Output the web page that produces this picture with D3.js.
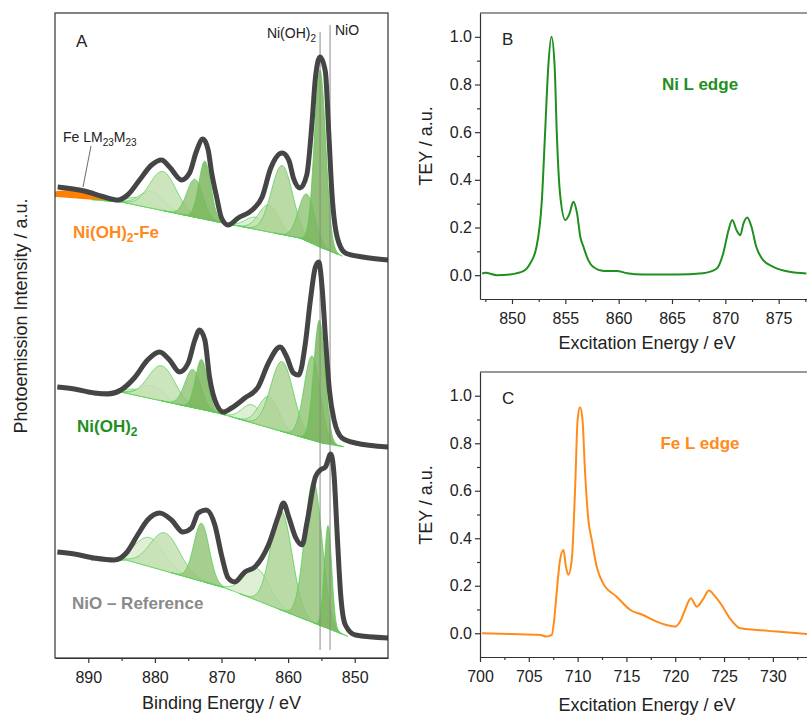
<!DOCTYPE html>
<html lang="en">
<head>
  <meta charset="UTF-8">
  <title>Ni 2p XPS and L-edge TEY</title>
  <script src="https://d3js.org/d3.v7.min.js"></script>
  <style>
    body { margin: 0; background: #fff; }
    svg { display: block; font-family: "Liberation Sans", Arial, sans-serif; }
    .axis path, .axis line { stroke: #333; stroke-width: 1.2px; }
    .axis text { font-family: "Liberation Sans", Arial, sans-serif; font-size: 16px; fill: #222; }
    .frame { fill: none; stroke: #333; stroke-width: 1.2px; }
    .spec { fill: none; stroke: #454545; stroke-width: 5px; stroke-linejoin: round; }
    .comp { stroke: #52d052; stroke-width: 0.8px; fill-opacity: 0.85; }
    .marker { stroke: #8a8a8a; stroke-width: 1px; }
    .title { font-size: 18px; fill: #222; }
  </style>
</head>
<body>
  <svg width="807" height="716"></svg>
  <script>
    // ---------- panel A : Ni 2p XPS, binding energy (eV) / intensity (a.u.) ----------
    const fePeakE = [894.6, 890.6, 887.6, 885.6, 884.1, 882.3, 880.5, 879.0, 877.8, 876.0, 874.8, 873.8, 872.8, 872.0, 871.5, 870.7, 870.0, 869.0, 867.5, 865.4, 863.9, 862.6, 860.9, 859.9, 859.2, 858.2, 857.2, 856.4, 855.9, 855.2, 854.4, 853.9, 853.4, 852.6, 851.4, 848.8, 845.0];
    const fePeakI = [471, 467, 461, 458, 463, 478, 493, 498, 491, 478, 485, 506, 519, 508, 486, 460, 440, 433, 440, 448, 461, 490, 505, 498, 480, 470, 483, 536, 580, 601, 586, 526, 463, 420, 405, 401, 398];
    const feBgE = [894.7, 885.0, 870.5, 858.2, 854.9, 851.9, 845.0];
    const feBgI = [461, 456, 436, 420, 410, 402, 399];
    // [centre eV, height, sigma eV, type]
    const feComps = [
      [882.3, 8, 1.8, "sat3"], [880.5, 17, 1.8, "sat3"], [878.8, 39, 2.0, "sat2"], [874.0, 38, 1.2, "shoulder"], [872.5, 58, 0.9, "main"],
      [864.9, 12, 1.5, "sat3"], [862.9, 27, 1.5, "sat2"], [860.9, 69, 1.6, "sat1"], [857.2, 47, 1.2, "shoulder"], [855.2, 177, 0.85, "main"]
    ];
    const feAuger = [892.0, 8, 3.5];

    const hydE = [894.65, 892.1, 889.1, 887.1, 885.1, 883.1, 881.1, 879.3, 877.8, 876.3, 875.0, 874.0, 873.3, 872.5, 871.8, 870.7, 869.7, 868.5, 866.5, 864.5, 862.95, 861.2, 860.2, 859.2, 858.4, 857.4, 856.65, 855.9, 855.4, 854.9, 854.4, 853.8, 853.1, 851.9, 849.9, 844.9];
    const hydI = [271, 269, 265, 264, 268, 280, 298, 306, 298, 286, 295, 318, 328, 318, 281, 253, 246, 250, 260, 271, 295, 311, 301, 285, 283, 315, 358, 391, 396, 371, 321, 268, 238, 220, 215, 211];
    const hydBgE = [885.1, 870.5, 854.9, 851.4, 845.0];
    const hydBgI = [266, 245, 215, 211, 210];
    const hydComps = [
      [882.5, 6, 1.8, "sat3"], [880.5, 13, 1.8, "sat3"], [879.0, 35, 2.0, "sat2"], [874.3, 38, 1.2, "shoulder"], [873.0, 50, 0.9, "main"],
      [865.4, 18, 1.5, "sat3"], [862.9, 31, 1.5, "sat2"], [860.9, 70, 1.7, "sat1"], [856.4, 84, 1.2, "shoulder"], [855.3, 122, 0.85, "main"]
    ];

    const nioE = [894.65, 892.1, 889.1, 886.1, 884.3, 882.6, 881.1, 879.3, 877.5, 875.8, 874.5, 873.5, 872.3, 871.0, 870.0, 869.0, 868.0, 866.5, 865.0, 862.95, 861.4, 860.7, 859.9, 858.9, 857.9, 857.15, 855.9, 855.15, 854.4, 853.6, 853.1, 852.6, 852.1, 851.4, 849.9, 844.9];
    const nioI = [106, 104, 100, 98, 105, 123, 138, 145, 138, 126, 130, 145, 148, 133, 103, 80, 76, 86, 91, 113, 143, 155, 141, 121, 113, 136, 181, 188, 191, 204, 183, 120, 63, 33, 23, 20];
    const nioBgE = [884.3, 869.4, 850.8, 845.0];
    const nioBgI = [98, 70, 21, 19];
    const nioComps = [
      [880.8, 29, 2.2, "sat3"], [878.5, 38, 2.2, "sat2"], [873.0, 58, 1.15, "shoulder"],
      [864.7, 32, 1.9, "sat3"], [861.0, 99, 1.6, "sat1"], [856.2, 142, 1.3, "shoulder"], [854.0, 103, 0.55, "main"]
    ];

    const refLines = [["Ni(OH)2", 855.2], ["NiO", 853.7]];

    // ---------- panel B : Ni L edge ----------
    const niE = [847.2, 847.5, 848.6, 849.8, 851.1, 851.7, 852.3, 852.8, 853.1, 853.4, 853.7, 854.0, 854.2, 854.5, 855.0, 855.4, 855.75, 856.1, 856.4, 856.7, 857.15, 857.6, 858.6, 859.8, 860.8, 862.3, 865.4, 867.9, 869.2, 869.8, 870.3, 870.65, 871.05, 871.4, 871.7, 872.05, 872.45, 872.9, 873.55, 874.5, 876.0, 877.6];
    const niY = [0.007, 0.010, 0.0, 0.003, 0.018, 0.049, 0.119, 0.315, 0.595, 0.874, 1.0, 0.874, 0.595, 0.343, 0.231, 0.259, 0.308, 0.259, 0.161, 0.119, 0.063, 0.035, 0.018, 0.018, 0.008, 0.003, 0.003, 0.008, 0.028, 0.091, 0.189, 0.231, 0.189, 0.168, 0.217, 0.242, 0.203, 0.119, 0.063, 0.035, 0.014, 0.007];

    // ---------- panel C : Fe L edge ----------
    const feE = [700.2, 703.1, 706.2, 706.8, 707.35, 707.6, 707.85, 708.2, 708.55, 708.8, 709.05, 709.4, 709.75, 710.0, 710.25, 710.5, 710.75, 711.1, 711.45, 711.95, 712.6, 714.0, 715.4, 716.7, 718.1, 719.1, 720.0, 720.5, 721.0, 721.6, 722.2, 722.9, 723.45, 724.1, 724.75, 725.6, 726.65, 728.35, 730.4, 733.5];
    const feY = [0.0, -0.003, -0.007, -0.014, -0.007, 0.056, 0.169, 0.309, 0.351, 0.281, 0.246, 0.309, 0.618, 0.899, 0.952, 0.899, 0.688, 0.477, 0.393, 0.281, 0.211, 0.154, 0.098, 0.077, 0.049, 0.035, 0.028, 0.049, 0.098, 0.147, 0.112, 0.147, 0.180, 0.154, 0.119, 0.063, 0.021, 0.014, 0.007, -0.003];

    const compColor = { main: "#7cb65e", shoulder: "#95c57b", sat1: "#aed496", sat2: "#c4e0b2", sat3: "#d8ecce" };

    const svg = d3.select("svg");

    // ===== panel A =====
    const A = { left: 55, right: 388, top: 13, bottom: 658 };
    const xA = d3.scaleLinear().domain([895, 845]).range([A.left, A.right]);
    const yA = d3.scaleLinear().domain([0, 645]).range([A.bottom, A.top]);

    svg.append("clipPath").attr("id", "clipA")
      .append("rect").attr("x", A.left).attr("y", A.top)
      .attr("width", A.right - A.left).attr("height", A.bottom - A.top);

    const gA = svg.append("g");
    const plotA = gA.append("g").attr("clip-path", "url(#clipA)");

    function drawSpectrum(E, I, bgE, bgI, comps, auger) {
      const bg = d3.scaleLinear().domain(bgE).range(bgI).clamp(true);
      const g = plotA.append("g");

      if (auger) {
        const [c, h, s] = auger;
        const es = d3.range(895, 884.5, -0.05);
        g.append("path")
          .attr("fill", "#ff8000")
          .attr("d", d3.area()
            .x(e => xA(e))
            .y0(e => yA(bg(e)))
            .y1(e => yA(bg(e) + h * Math.exp(-((e - c) ** 2) / (2 * s * s))))(es));
      }

      comps.forEach(([c, h, s, type]) => {
        const es = d3.range(c + 4 * s, c - 4 * s, -0.05);
        g.append("path")
          .attr("class", "comp")
          .attr("fill", compColor[type])
          .attr("d", d3.area()
            .x(e => xA(e))
            .y0(e => yA(bg(e)))
            .y1(e => yA(bg(e) + h * Math.exp(-((e - c) ** 2) / (2 * s * s))))(es));
      });
      return g;
    }

    drawSpectrum(fePeakE, fePeakI, feBgE, feBgI, feComps, feAuger);
    drawSpectrum(hydE, hydI, hydBgE, hydBgI, hydComps, null);
    drawSpectrum(nioE, nioI, nioBgE, nioBgI, nioComps, null);

    // reference lines
    plotA.selectAll(".marker")
      .data(refLines)
      .enter().append("line")
      .attr("class", "marker")
      .attr("x1", d => xA(d[1])).attr("x2", d => xA(d[1]))
      .attr("y1", (d, i) => i === 0 ? 32 : 25)
      .attr("y2", 650);

    const specLine = d3.line().x(d => xA(d[0])).y(d => yA(d[1])).curve(d3.curveMonotoneX);
    [[fePeakE, fePeakI], [hydE, hydI], [nioE, nioI]].forEach(([E, I]) => {
      plotA.append("path").attr("class", "spec").attr("d", specLine(d3.zip(E, I)));
    });

    gA.append("rect").attr("class", "frame")
      .attr("x", A.left).attr("y", A.top)
      .attr("width", A.right - A.left).attr("height", A.bottom - A.top);

    gA.append("g").attr("class", "axis")
      .attr("transform", `translate(0,${A.bottom})`)
      .call(d3.axisBottom(xA).tickValues([890, 880, 870, 860, 850]).tickSize(5).tickPadding(9).tickSizeOuter(0));
    gA.append("g").attr("class", "axis")
      .attr("transform", `translate(0,${A.bottom})`)
      .call(d3.axisBottom(xA).tickValues([885, 875, 865, 855]).tickSize(3).tickFormat(""))
      .call(g => g.select(".domain").remove());

    gA.append("text").attr("class", "title")
      .attr("x", (A.left + A.right) / 2).attr("y", 709)
      .attr("text-anchor", "middle").text("Binding Energy / eV");
    gA.append("text").attr("class", "title")
      .attr("transform", "translate(27,316) rotate(-90)")
      .attr("text-anchor", "middle").text("Photoemission Intensity / a.u.");

    gA.append("text").attr("x", 76).attr("y", 47).attr("font-size", 17).attr("fill", "#222").text("A");

    // peak position labels
    const lbl1 = gA.append("text").attr("x", 316).attr("y", 38).attr("text-anchor", "end")
      .attr("font-size", 14).attr("fill", "#222");
    lbl1.append("tspan").text("Ni(OH)");
    lbl1.append("tspan").attr("dy", 4).attr("font-size", 10).text("2");
    gA.append("text").attr("x", 335).attr("y", 35).attr("font-size", 14).attr("fill", "#222").text("NiO");

    // Fe LMM annotation
    const lbl2 = gA.append("text").attr("x", 63).attr("y", 142).attr("font-size", 14).attr("fill", "#222");
    lbl2.append("tspan").text("Fe LM");
    lbl2.append("tspan").attr("dy", 4).attr("font-size", 10).text("23");
    lbl2.append("tspan").attr("dy", -4).text("M");
    lbl2.append("tspan").attr("dy", 4).attr("font-size", 10).text("23");
    gA.append("line").attr("x1", 91).attr("y1", 146).attr("x2", 83).attr("y2", 187)
      .attr("stroke", "#444").attr("stroke-width", 0.8);

    // sample labels
    const s1 = gA.append("text").attr("x", 73).attr("y", 238).attr("font-size", 17)
      .attr("font-weight", "bold").attr("fill", "#ff8a1c");
    s1.append("tspan").text("Ni(OH)");
    s1.append("tspan").attr("dy", 4).attr("font-size", 12).text("2");
    s1.append("tspan").attr("dy", -4).text("-Fe");
    const s2 = gA.append("text").attr("x", 77).attr("y", 432).attr("font-size", 17)
      .attr("font-weight", "bold").attr("fill", "#1f8f1f");
    s2.append("tspan").text("Ni(OH)");
    s2.append("tspan").attr("dy", 4).attr("font-size", 12).text("2");
    gA.append("text").attr("x", 72).attr("y", 609).attr("font-size", 17)
      .attr("font-weight", "bold").attr("fill", "#8a8a8a").text("NiO \u2013 Reference");

    // ===== panels B and C =====
    function drawXas(box, xDomain, majors, minors, E, Y, color, letter, label, titleY, yLabelCenter) {
      const x = d3.scaleLinear().domain(xDomain).range([box.left, box.right]);
      const y = d3.scaleLinear().domain([-0.1, 1.1]).range([box.bottom, box.top]);
      const g = svg.append("g");

      g.append("line").attr("class", "frame")
        .attr("x1", box.left).attr("x2", box.right).attr("y1", box.top).attr("y2", box.top);

      g.append("g").attr("class", "axis")
        .attr("transform", `translate(0,${box.bottom})`)
        .call(d3.axisBottom(x).tickValues(majors).tickSize(5).tickPadding(9).tickSizeOuter(0));
      g.append("g").attr("class", "axis")
        .attr("transform", `translate(0,${box.bottom})`)
        .call(d3.axisBottom(x).tickValues(minors).tickSize(3).tickFormat(""))
        .call(a => a.select(".domain").remove());

      g.append("g").attr("class", "axis")
        .attr("transform", `translate(${box.left},0)`)
        .call(d3.axisLeft(y).tickValues([0, 0.2, 0.4, 0.6, 0.8, 1.0]).tickFormat(d3.format(".1f"))
          .tickSize(5).tickPadding(3).tickSizeOuter(0));
      g.append("g").attr("class", "axis")
        .attr("transform", `translate(${box.left},0)`)
        .call(d3.axisLeft(y).tickValues([0.1, 0.3, 0.5, 0.7, 0.9]).tickSize(3).tickFormat(""))
        .call(a => a.select(".domain").remove());

      g.append("path")
        .attr("fill", "none").attr("stroke", color).attr("stroke-width", 2)
        .attr("d", d3.line().x(d => x(d[0])).y(d => y(d[1])).curve(d3.curveMonotoneX)(d3.zip(E, Y)));

      g.append("text").attr("x", 502).attr("y", box.top + 32).attr("font-size", 17).attr("fill", "#222").text(letter);
      g.append("text").attr("x", 700).attr("y", box.top + 77).attr("text-anchor", "middle")
        .attr("font-size", 17).attr("font-weight", "bold").attr("fill", color).text(label);

      g.append("text").attr("class", "title")
        .attr("x", 647).attr("y", titleY).attr("text-anchor", "middle").text("Excitation Energy / eV");
      g.append("text").attr("class", "title")
        .attr("transform", `translate(432,${yLabelCenter}) rotate(-90)`)
        .attr("text-anchor", "middle").text("TEY / a.u.");
    }

    drawXas({ left: 480, right: 808, top: 13, bottom: 299 }, [847, 877.75],
      [850, 855, 860, 865, 870, 875], [847.5, 852.5, 857.5, 862.5, 867.5, 872.5, 877.5],
      niE, niY, "#1f8f1f", "B", "Ni L edge", 349, 146);

    drawXas({ left: 480, right: 808, top: 372, bottom: 657 }, [700, 733.6],
      [700, 705, 710, 715, 720, 725, 730], [702.5, 707.5, 712.5, 717.5, 722.5, 727.5, 732.5],
      feE, feY, "#ff8c1a", "C", "Fe L edge", 711, 505);
  </script>
</body>
</html>
